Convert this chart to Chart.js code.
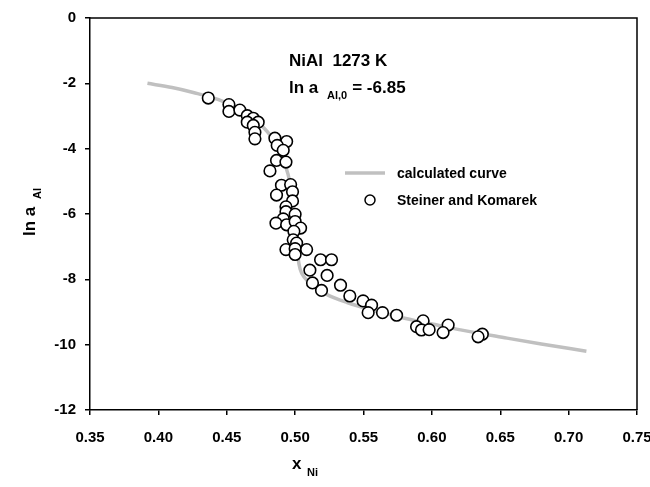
<!DOCTYPE html>
<html>
<head>
<meta charset="utf-8">
<script src="https://cdn.jsdelivr.net/npm/chart.js@4"></script>
<style>
html,body{margin:0;padding:0;background:#fff;}
#wrap{width:650px;height:487px;position:relative;}
</style>
</head>
<body>
<div id="wrap"><canvas id="c" width="650" height="487"></canvas></div>
<script>
// Calculated curve (x_Ni, ln a_Al)
const curveX = [0.392, 0.41, 0.4255, 0.444, 0.46, 0.468, 0.477, 0.482, 0.488, 0.4927, 0.496, 0.498, 0.4995, 0.501, 0.502, 0.5036, 0.507, 0.513, 0.523, 0.538, 0.557, 0.58, 0.606, 0.62, 0.655, 0.68, 0.713];
const curveY = [-2.00, -2.13, -2.28, -2.50, -2.80, -3.02, -3.36, -3.60, -4.00, -4.50, -5.00, -5.60, -6.20, -6.85, -7.30, -7.68, -7.95, -8.20, -8.46, -8.71, -8.95, -9.19, -9.42, -9.54, -9.80, -9.98, -10.20];
// Steiner and Komarek data
const expX = [0.4365, 0.4516, 0.4516, 0.4596, 0.4650, 0.4694, 0.4650, 0.4730, 0.4694, 0.4706, 0.4706, 0.4852, 0.4938, 0.4869, 0.4913, 0.4864, 0.4933, 0.4816, 0.4900, 0.4967, 0.4981, 0.4864, 0.4981, 0.4933, 0.4933, 0.5000, 0.4913, 0.4860, 0.4938, 0.5000, 0.5040, 0.4991, 0.4986, 0.5011, 0.4933, 0.5000, 0.5084, 0.5000, 0.5186, 0.5266, 0.5108, 0.5234, 0.5127, 0.5193, 0.5332, 0.5400, 0.5497, 0.5559, 0.5534, 0.5639, 0.5742, 0.5936, 0.5888, 0.5924, 0.5980, 0.6119, 0.6082, 0.6369, 0.6338];
const expY = [-2.45, -2.65, -2.86, -2.82, -2.99, -3.07, -3.19, -3.19, -3.29, -3.50, -3.70, -3.68, -3.78, -3.90, -4.05, -4.36, -4.41, -4.68, -5.12, -5.10, -5.32, -5.42, -5.60, -5.78, -5.93, -6.01, -6.15, -6.28, -6.33, -6.23, -6.43, -6.53, -6.79, -6.89, -7.09, -7.06, -7.09, -7.24, -7.40, -7.40, -7.72, -7.88, -8.11, -8.34, -8.18, -8.51, -8.66, -8.79, -9.02, -9.02, -9.10, -9.27, -9.45, -9.55, -9.54, -9.40, -9.63, -9.68, -9.76];
const xTicks = [0.35, 0.40, 0.45, 0.50, 0.55, 0.60, 0.65, 0.70, 0.75];
const yTicks = [0, -2, -4, -6, -8, -10, -12];
const legendLabels = ['calculated curve', 'Steiner and Komarek'];

const FONT = '"Liberation Sans", Arial, sans-serif';

const curveData = curveX.map((x, i) => ({x: x, y: curveY[i]}));
const expData = expX.map((x, i) => ({x: x, y: expY[i]}));

const decor = {
  id: 'decor',
  afterDraw(chart) {
    const ctx = chart.ctx;
    const a = chart.chartArea;
    ctx.save();
    // frame top and right
    ctx.strokeStyle = '#000';
    ctx.lineWidth = 1.5;
    ctx.beginPath();
    ctx.moveTo(a.left, a.top);
    ctx.lineTo(a.right, a.top);
    ctx.lineTo(a.right, a.bottom);
    ctx.stroke();

    ctx.fillStyle = '#000';
    ctx.textBaseline = 'alphabetic';
    ctx.textAlign = 'left';
    // annotation
    ctx.font = 'bold 17px ' + FONT;
    ctx.fillText('NiAl  1273 K', 289, 66);
    let x0 = 289;
    ctx.fillText('ln a', x0, 93);
    let w = ctx.measureText('ln a ').width;
    ctx.font = 'bold 11px ' + FONT;
    ctx.fillText('Al,0', x0 + w + 4, 99);
    let w2 = ctx.measureText('Al,0').width;
    ctx.font = 'bold 17px ' + FONT;
    ctx.fillText('= -6.85', x0 + w + 4 + w2 + 5, 93);

    // legend
    ctx.strokeStyle = '#c0c0c0';
    ctx.lineWidth = 3.5;
    ctx.beginPath();
    ctx.moveTo(345, 173);
    ctx.lineTo(385, 173);
    ctx.stroke();
    ctx.fillStyle = '#fff';
    ctx.strokeStyle = '#000';
    ctx.lineWidth = 1.5;
    ctx.beginPath();
    ctx.arc(370, 200, 5, 0, Math.PI * 2);
    ctx.fill();
    ctx.stroke();
    ctx.fillStyle = '#000';
    ctx.font = 'bold 14px ' + FONT;
    ctx.fillText(legendLabels[0], 397, 178);
    ctx.fillText(legendLabels[1], 397, 205);

    // x axis title
    ctx.font = 'bold 17px ' + FONT;
    ctx.fillText('x', 292, 469);
    ctx.font = 'bold 11px ' + FONT;
    ctx.fillText('Ni', 307, 476);

    // y axis title
    ctx.translate(35, 212);
    ctx.rotate(-Math.PI / 2);
    ctx.font = 'bold 17px ' + FONT;
    ctx.fillText('ln a', -24, 0);
    let wy = ctx.measureText('ln a ').width;
    ctx.font = 'bold 11px ' + FONT;
    ctx.fillText('Al', -24 + wy + 3, 6);
    ctx.restore();
  }
};

new Chart(document.getElementById('c'), {
  type: 'scatter',
  data: {
    datasets: [
      {
        type: 'line',
        label: legendLabels[0],
        data: curveData,
        borderColor: '#c0c0c0',
        borderWidth: 3.5,
        pointRadius: 0,
        fill: false,
        cubicInterpolationMode: 'monotone',
        order: 2
      },
      {
        label: legendLabels[1],
        data: expData,
        backgroundColor: '#ffffff',
        borderColor: '#000000',
        borderWidth: 1.6,
        pointRadius: 5.8,
        order: 1
      }
    ]
  },
  options: {
    responsive: false,
    animation: false,
    devicePixelRatio: 1,
    layout: {padding: {left: 0, right: 13, top: 15, bottom: 0}},
    plugins: {legend: {display: false}, tooltip: {enabled: false}},
    scales: {
      x: {
        type: 'linear',
        min: 0.35, max: 0.75,
        afterBuildTicks: s => { s.ticks = xTicks.map(v => ({value: v})); },
        afterFit: s => { s.height = 77; s.paddingRight = 0; },
        grid: {drawOnChartArea: false, drawTicks: true, tickLength: 5, color: '#000', lineWidth: 1.5},
        border: {display: true, color: '#000', width: 1.5},
        ticks: {
          padding: 14,
          color: '#000',
          font: {family: FONT, size: 15, weight: 'bold'},
          maxRotation: 0,
          callback: v => v.toFixed(2)
        }
      },
      y: {
        type: 'linear',
        min: -12, max: 0,
        afterBuildTicks: s => { s.ticks = yTicks.map(v => ({value: v})); },
        afterFit: s => { s.width = 90; },
        grid: {drawOnChartArea: false, drawTicks: true, tickLength: 5, color: '#000', lineWidth: 1.5},
        border: {display: true, color: '#000', width: 1.5},
        ticks: {
          padding: 9,
          color: '#000',
          font: {family: FONT, size: 15, weight: 'bold'},
          callback: v => String(v)
        }
      }
    }
  },
  plugins: [decor]
});
</script>
</body>
</html>
